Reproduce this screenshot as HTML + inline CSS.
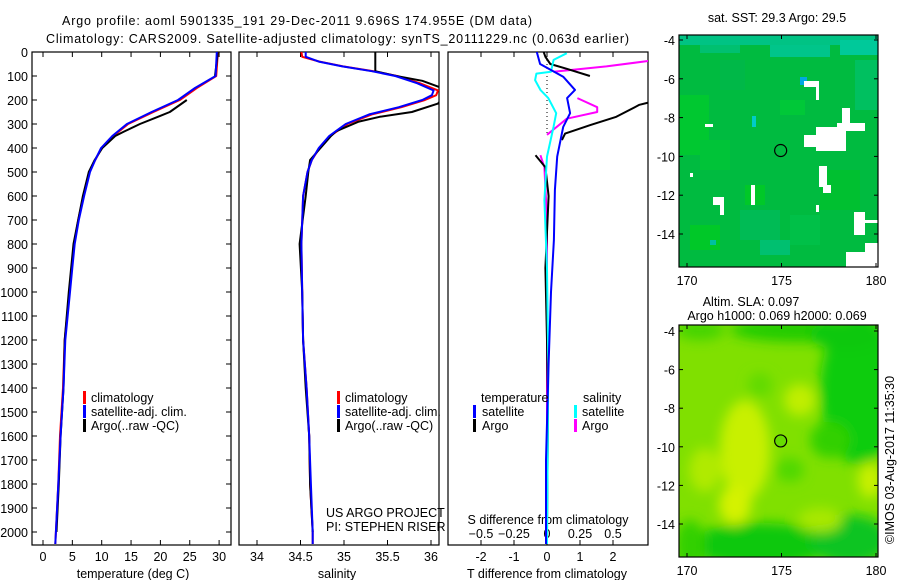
<!DOCTYPE html>
<html><head><meta charset="utf-8"><style>
html,body{margin:0;padding:0;background:#fff;}
svg{display:block;font-family:"Liberation Sans",Arial,sans-serif;}
text{font-size:12.5px;fill:#000;}
</style></head><body>
<svg id="chart" width="900" height="580" viewBox="0 0 900 580" xmlns="http://www.w3.org/2000/svg">
<defs>
<clipPath id="c1"><rect x="32" y="52" width="199" height="493"/></clipPath>
<clipPath id="c2"><rect x="239" y="52" width="200" height="493"/></clipPath>
<clipPath id="c3"><rect x="448" y="52" width="200" height="493"/></clipPath>
<clipPath id="cm1"><rect x="679" y="35" width="199" height="232"/></clipPath>
<clipPath id="cm2"><rect x="679" y="325" width="199" height="232"/></clipPath>
<filter id="bl" x="-50%" y="-50%" width="200%" height="200%"><feGaussianBlur stdDeviation="6"/></filter>
</defs>
<text x="62" y="25" textLength="470">Argo profile: aoml 5901335_191 29-Dec-2011 9.696S 174.955E (DM data)</text>
<text x="46" y="43" textLength="583">Climatology: CARS2009. Satellite-adjusted climatology: synTS_20111229.nc (0.063d earlier)</text>
<g id="g1"></g>
<g id="g2"></g>
<g id="g3"></g>
<g id="m1"></g>
<g id="m2"></g>
<text transform="translate(894,460) rotate(-90)" text-anchor="middle" font-size="12.5">©IMOS 03-Aug-2017 11:35:30</text>
</svg>
<script>
// ---- data ----
const depthT = [0,100,150,200,250,300,350,400,450,500,600,700,800,900,1000,1200,1400,1600,1800,2000,2050];
const climT  = [29.8,29.5,26.2,23.3,18.8,14.5,12.0,10.0,8.9,7.9,6.9,6.0,5.3,4.9,4.5,3.7,3.4,2.9,2.6,2.2,2.1];
const satT   = [29.6,29.4,25.9,23.0,18.5,14.3,11.8,9.9,8.9,8.0,7.0,6.1,5.4,5.0,4.6,3.8,3.5,3.0,2.6,2.2,2.1];
const depthArgoT = [0,100,150,200,250,267,300,333,350,400,450,500,600,800,1000,1200,1400,1600,1800,2000];
const argoT  = [29.8,29.3,null,24.5,21.6,19.9,16.5,13.7,12.3,10.1,8.8,7.8,6.8,5.2,4.4,3.7,3.5,3.0,2.7,2.3];
const depthS = [0,20,40,60,80,100,130,160,180,200,230,260,300,350,400,450,500,600,800,1000,1200,1400,1600,1800,2000,2050];
const climS  = [34.51,34.52,34.72,34.99,35.34,35.61,35.87,36.08,36.06,35.93,35.66,35.32,35.04,34.84,34.72,34.63,34.58,34.53,34.51,34.52,34.53,34.57,34.60,34.61,34.64,34.64];
const satS   = [34.56,34.56,34.71,34.98,35.32,35.59,35.84,36.03,36.01,35.90,35.63,35.29,35.02,34.83,34.71,34.63,34.58,34.53,34.51,34.52,34.53,34.57,34.60,34.62,34.64,34.64];
const depthArgoS = [0,80,100,120,160,215,250,270,290,330,350,400,450,500,600,800,1000,1200,1400,1600,1800,2000];
const argoS  = [35.36,35.36,35.6,35.9,36.2,36.08,35.78,35.41,35.17,34.91,34.85,34.73,34.61,34.59,34.56,34.49,34.52,34.53,34.56,34.60,34.61,34.64];
const depthD = [0,50,103,158,192,255,312,436,575,783,1000,1300,1700,2050];
const dTsat  = [-0.31,-0.21,0.49,0.85,0.61,0.70,0.49,0.31,0.24,0.21,0.12,0.05,-0.03,-0.03];
const depthDA = [0,20,50,70,100,150,200,220,270,305,340,367,400,430,480,600,900,1200,1500,2000];
const dTargo = [-0.1,-0.05,0.1,0.6,1.3,null,3.4,2.8,2.1,1.3,0.55,0.45,null,-0.35,-0.05,0.05,-0.05,0.0,0.03,0.0];
const depthDS = [5,33,82,90,117,158,192,255,311,436,617,900,1300,2050];
const dSsat  = [0.15,0.05,0.03,-0.08,-0.09,-0.05,0.01,0.07,0.05,0.0,-0.02,0.0,0.01,0.0];
const depthDSA = [35,60,82,150,192,230,250,278,345,400,430,480,700,1200,2050];
const dSargo = [0.8,0.45,0.05,null,0.23,0.38,0.38,0.15,0.0,null,-0.05,-0.02,0.0,0.0,0.0];
const tTicks = [0,5,10,15,20,25,30];
const sTicks = [34,34.5,35,35.5,36];
const sTickLabels = ["34","34.5","35","35.5","36"];
const dTTicks = [-2,-1,0,1,2];
const dSTicks = [-0.5,-0.25,0,0.25,0.5];
const depthTicks = [0,100,200,300,400,500,600,700,800,900,1000,1100,1200,1300,1400,1500,1600,1700,1800,1900,2000];
const latTicks = [-4,-6,-8,-10,-12,-14];
const lonTicks = [170,175,180];
const argoLon = 174.955, argoLat = -9.696;

// ---- scales ----
const yD = d => 52 + d*0.24;
const xT = t => 43 + t*5.87;
const xS = s => 257 + (s-34)*87;
const xdT = t => 547 + t*33;
const xdS = s => 547 + s*132;
const NS = "http://www.w3.org/2000/svg";
function mk(tag, attrs, parent){const e=document.createElementNS(NS,tag);for(const k in attrs)e.setAttribute(k,attrs[k]);parent.appendChild(e);return e;}
function line(xs, ys, xf, color, parent, name, w){
  let d = "", pen = false;
  xs.forEach((v,i)=>{
    if(v===null){pen=false;return;}
    d += (pen?"L":"M") + xf(v).toFixed(1)+","+yD(ys[i]).toFixed(1);
    pen = true;
  });
  const p = mk("path",{d:d,fill:"none",stroke:color,"stroke-width":w||2,"stroke-linejoin":"round"},parent);
  
  
}
function txt(x,y,s,parent,name,anchor,size){
  const t = mk("text",{x:x,y:y,"text-anchor":anchor||"start"},parent);
  if(size) t.setAttribute("font-size",size);
  t.textContent=s;
  
  
  return t;
}
function frame(x,y,w,h,parent,name){
  const r = mk("rect",{x:x,y:y,width:w,height:h,fill:"none",stroke:"#000","stroke-width":1.2},parent);
  
  
}
function tick(x1,y1,x2,y2,parent){mk("line",{x1:x1,y1:y1,x2:x2,y2:y2,stroke:"#000","stroke-width":1},parent);}
function legendBar(x,y,color,parent,name){
  const r = mk("rect",{x:x,y:y-11,width:3,height:13,fill:color},parent);
  
  
}

// ---- panel 1: temperature ----
const g1 = document.getElementById("g1");
frame(32,52,199,493,g1,"temperature-plot-area");
depthTicks.forEach(d=>{tick(32,yD(d),37,yD(d),g1);tick(226,yD(d),231,yD(d),g1);txt(28,yD(d)+5,String(d),g1,"depth-tick-label","end");});
tTicks.forEach(t=>{tick(xT(t),545,xT(t),540,g1);tick(xT(t),52,xT(t),57,g1);txt(xT(t),561,String(t),g1,"temperature-tick-label","middle");});
txt(133,578,"temperature (deg C)",g1,"x-axis-title-temperature","middle");
const c1 = mk("g",{"clip-path":"url(#c1)"},g1);
line(climT,depthT,xT,"#f00",c1,"temperature-climatology-line");
line(argoT,depthArgoT,xT,"#000",c1,"temperature-argo-line");
line(satT,depthT,xT,"#00f",c1,"temperature-satellite-line");
legendBar(83,402,"#f00",g1,"legend-swatch-climatology");
legendBar(83,416,"#00f",g1,"legend-swatch-satellite");
legendBar(83,430,"#000",g1,"legend-swatch-argo");
txt(91,402,"climatology",g1,"legend-climatology");
txt(91,416,"satellite-adj. clim.",g1,"legend-satellite");
txt(91,430,"Argo(..raw -QC)",g1,"legend-argo");

// ---- panel 2: salinity ----
const g2 = document.getElementById("g2");
frame(239,52,200,493,g2,"salinity-plot-area");
sTicks.forEach((s,i)=>{tick(xS(s),545,xS(s),540,g2);tick(xS(s),52,xS(s),57,g2);txt(xS(s),561,sTickLabels[i],g2,"salinity-tick-label","middle");});
txt(337,578,"salinity",g2,"x-axis-title-salinity","middle");
const c2 = mk("g",{"clip-path":"url(#c2)"},g2);
line(climS,depthS,xS,"#f00",c2,"salinity-climatology-line");
line(argoS,depthArgoS,xS,"#000",c2,"salinity-argo-line");
line(satS,depthS,xS,"#00f",c2,"salinity-satellite-line");
legendBar(337,402,"#f00",g2,"legend-swatch-climatology-s");
legendBar(337,416,"#00f",g2,"legend-swatch-satellite-s");
legendBar(337,430,"#000",g2,"legend-swatch-argo-s");
txt(345,402,"climatology",g2,"legend-climatology-s");
txt(345,416,"satellite-adj. clim.",g2,"legend-satellite-s");
txt(345,430,"Argo(..raw -QC)",g2,"legend-argo-s");
txt(326,517,"US ARGO PROJECT",g2,"project-label");
txt(326,531,"PI: STEPHEN RISER",g2,"pi-label");

// ---- panel 3: differences ----
const g3 = document.getElementById("g3");
frame(448,52,200,493,g3,"difference-plot-area");
dTTicks.forEach(t=>{tick(xdT(t),545,xdT(t),540,g3);tick(xdT(t),52,xdT(t),57,g3);txt(xdT(t),561,String(t),g3,"t-diff-tick-label","middle");});
dSTicks.forEach(s=>{txt(xdS(s),538,String(s).replace("-","−"),g3,"s-diff-tick-label","middle");});
txt(547,578,"T difference from climatology",g3,"x-axis-title-t-diff","middle");
txt(548,524,"S difference from climatology",g3,"x-axis-title-s-diff","middle");
const zl = mk("line",{x1:547,y1:52,x2:547,y2:135,stroke:"#000","stroke-width":1,"stroke-dasharray":"1,3"},g3);


const c3 = mk("g",{"clip-path":"url(#c3)"},g3);
line(dSargo,depthDSA,xdS,"#f0f",c3,"s-diff-argo-line");
line(dTargo,depthDA,xdT,"#000",c3,"t-diff-argo-line");
line(dSsat,depthDS,xdS,"#0ff",c3,"s-diff-satellite-line");
line(dTsat,depthD,xdT,"#00f",c3,"t-diff-satellite-line");
txt(481,402,"temperature",g3,"legend-temperature-header");
txt(583,402,"salinity",g3,"legend-salinity-header");
legendBar(473,416,"#00f",g3,"legend-swatch-t-satellite");
legendBar(473,430,"#000",g3,"legend-swatch-t-argo");
legendBar(574,416,"#0ff",g3,"legend-swatch-s-satellite");
legendBar(574,430,"#f0f",g3,"legend-swatch-s-argo");
txt(482,416,"satellite",g3,"legend-t-satellite");
txt(482,430,"Argo",g3,"legend-t-argo");
txt(582,416,"satellite",g3,"legend-s-satellite");
txt(582,430,"Argo",g3,"legend-s-argo");

// ---- maps ----
const mxL = lon => 687 + (lon-170)*18.9;
function mapAxes(g, top, latY){
  latTicks.forEach(l=>{const y=latY(l);tick(679,y,683,y,g);tick(874,y,878,y,g);txt(675,y+5,String(l),g,"latitude-tick-label","end");});
  lonTicks.forEach(l=>{const x=mxL(l);tick(x,top,x,top+4,g);tick(x,top+232,x,top+228,g);txt(x,top+250,String(l),g,"longitude-tick-label","middle");});
  frame(679,top,199,232,g,"map-frame");
  const cx = mxL(argoLon), cy = latY(argoLat);
  const c = mk("circle",{cx:cx,cy:cy,r:6,fill:"none",stroke:"#000","stroke-width":1.2},g);
  
  
}
// SST map
const m1 = document.getElementById("m1");
const y1 = lat => 40 + (-4-lat)*19.4;
const mc1 = mk("g",{"clip-path":"url(#cm1)"},m1);
mk("rect",{x:679,y:35,width:199,height:232,fill:"#00bb40"},mc1);
const sstPatches = [
 [679,35,199,10,"#00c384"],[700,45,40,8,"#00c070"],[770,45,60,12,"#00c58a"],[840,40,38,15,"#00c99a"],
 [679,95,30,60,"#00c830"],[700,140,30,30,"#00c438"],[740,210,40,30,"#00bb55"],[760,240,30,15,"#00c070"],
 [690,225,30,25,"#00c828"],[790,215,30,30,"#00c048"],[820,170,40,40,"#00c030"],[855,60,23,50,"#00c060"],
 [720,60,25,30,"#00b848"],[780,100,25,15,"#00c838"],[745,185,20,20,"#00c828"],
 [800,77,7,8,"#00a8e0"],[752,116,4,11,"#00ccc8"],[710,240,6,5,"#00c0a0"],
 [804,81,15,6,"#fff"],[816,81,3,19,"#fff"],[816,127,30,24,"#fff"],[804,135,12,12,"#fff"],[842,108,8,19,"#fff"],[837,123,28,8,"#fff"],
 [705,124,8,3,"#fff"],[751,185,4,20,"#fff"],[819,166,8,21,"#fff"],[823,185,8,8,"#fff"],[713,197,11,8,"#fff"],[720,200,4,15,"#fff"],
 [690,173,3,4,"#fff"],[816,205,3,7,"#fff"],[854,212,11,23,"#fff"],[865,220,13,3,"#fff"],[846,252,32,15,"#fff"],[865,243,13,24,"#fff"]
];
sstPatches.forEach(p=>{mk("rect",{x:p[0],y:p[1],width:p[2],height:p[3],fill:p[4]},mc1);});
mapAxes(m1,35,y1);
txt(777,22,"sat. SST: 29.3 Argo: 29.5",m1,"sst-map-title","middle",12);
// SLA map
const m2 = document.getElementById("m2");
const y2 = lat => 331 + (-4-lat)*19.3;
const mc2 = mk("g",{"clip-path":"url(#cm2)"},m2);
mk("rect",{x:679,y:325,width:199,height:232,fill:"#80e000"},mc2);
const blobs = mk("g",{filter:"url(#bl)"},mc2);
const slaBlobs = [
 [860,390,40,75,"#10cc10"],[800,330,70,12,"#22cc00"],[700,330,25,10,"#44d400"],[760,545,70,22,"#11c810"],
 [850,540,40,25,"#11c420"],[690,545,15,25,"#30d000"],[745,450,25,50,"#c8f000"],[735,505,16,20,"#d4f200"],
 [705,470,16,22,"#b0ea00"],[800,400,16,16,"#c0ee00"],[870,480,12,18,"#c8f000"],[820,520,22,12,"#a8e800"],
 [790,470,14,12,"#50d800"],[760,385,12,12,"#60da00"],[845,335,35,15,"#11c810"],[830,440,20,18,"#30d000"]
];
slaBlobs.forEach(b=>{mk("ellipse",{cx:b[0],cy:b[1],rx:b[2],ry:b[3],fill:b[4]},blobs);});
mapAxes(m2,325,y2);
mk("circle",{cx:mxL(argoLon),cy:y2(argoLat),r:5.5,fill:"#66dc00"},mc2);
txt(751,306,"Altim. SLA: 0.097",m2,"sla-map-title","middle",12);
txt(777,320,"Argo h1000: 0.069 h2000: 0.069",m2,"sla-map-subtitle","middle",12);
</script>
</body></html>
